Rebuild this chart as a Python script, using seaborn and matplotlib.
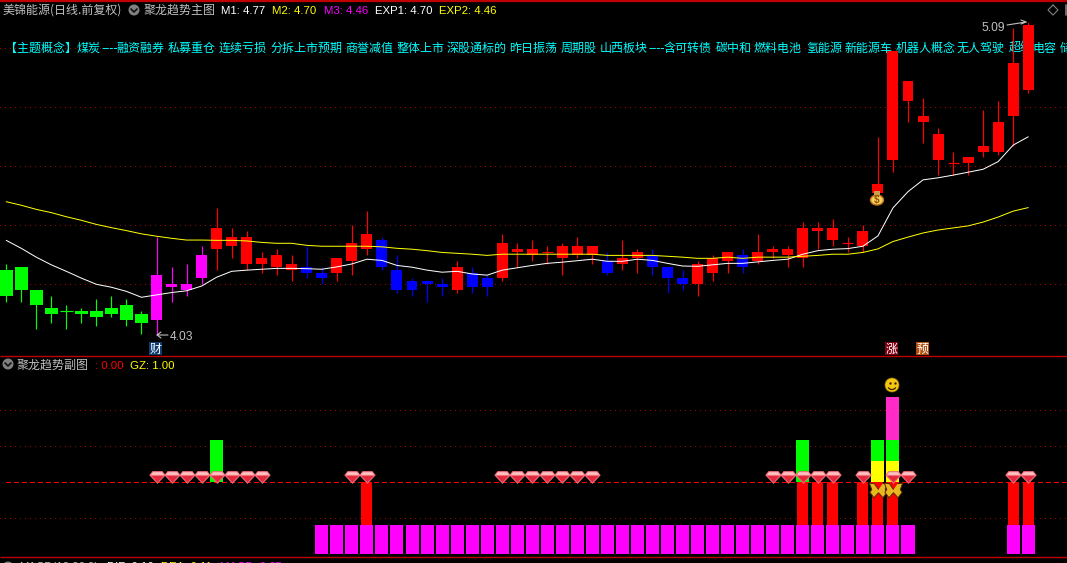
import matplotlib
matplotlib.use('Agg')
import matplotlib.pyplot as plt
from matplotlib.patches import Rectangle, Circle, Ellipse, Arc
import numpy as np
import pandas as pd
import seaborn as sns

# candle data, prices (body top / body bottom / high / low)
body_top = [4.25, 4.26, 4.18, 4.12, 4.11, 4.11, 4.11, 4.12, 4.13, 4.10,
            4.23, 4.20, 4.20, 4.30, 4.39, 4.36, 4.36, 4.29, 4.30, 4.27,
            4.26, 4.24, 4.29, 4.34, 4.37, 4.35, 4.25, 4.21, 4.21, 4.20,
            4.26, 4.24, 4.22, 4.34, 4.32, 4.32, 4.31, 4.33, 4.33, 4.33,
            4.28, 4.29, 4.31, 4.30, 4.26, 4.22, 4.27, 4.29, 4.31, 4.30,
            4.31, 4.32, 4.32, 4.39, 4.39, 4.39, 4.34, 4.38, 4.54, 4.99,
            4.89, 4.77, 4.71, 4.61, 4.63, 4.67, 4.75, 4.95, 5.08]
body_bot = [4.16, 4.18, 4.13, 4.10, 4.11, 4.10, 4.09, 4.10, 4.08, 4.07,
            4.08, 4.19, 4.18, 4.22, 4.32, 4.33, 4.27, 4.27, 4.26, 4.25,
            4.24, 4.22, 4.24, 4.28, 4.32, 4.26, 4.18, 4.18, 4.20, 4.19,
            4.18, 4.19, 4.19, 4.22, 4.31, 4.30, 4.31, 4.29, 4.30, 4.30,
            4.24, 4.27, 4.29, 4.26, 4.22, 4.20, 4.20, 4.24, 4.28, 4.26,
            4.28, 4.31, 4.30, 4.29, 4.38, 4.35, 4.34, 4.33, 4.51, 4.62,
            4.82, 4.75, 4.62, 4.61, 4.61, 4.65, 4.65, 4.77, 4.86]
high = [4.27, 4.26, 4.18, 4.16, 4.13, 4.12, 4.15, 4.16, 4.15, 4.11,
        4.36, 4.26, 4.27, 4.33, 4.46, 4.39, 4.38, 4.31, 4.32, 4.30,
        4.33, 4.26, 4.29, 4.40, 4.45, 4.36, 4.30, 4.22, 4.21, 4.22,
        4.28, 4.26, 4.23, 4.37, 4.34, 4.35, 4.33, 4.34, 4.36, 4.33,
        4.31, 4.35, 4.32, 4.32, 4.26, 4.25, 4.28, 4.30, 4.31, 4.32,
        4.37, 4.33, 4.33, 4.41, 4.41, 4.42, 4.36, 4.40, 4.70, 4.99,
        4.89, 4.83, 4.73, 4.65, 4.63, 4.79, 4.82, 5.07, 5.09]
low = [4.14, 4.14, 4.05, 4.07, 4.05, 4.07, 4.06, 4.09, 4.06, 4.03,
       4.03, 4.14, 4.16, 4.20, 4.25, 4.29, 4.25, 4.24, 4.23, 4.21,
       4.22, 4.20, 4.21, 4.23, 4.30, 4.25, 4.17, 4.16, 4.14, 4.16,
       4.17, 4.17, 4.16, 4.21, 4.26, 4.28, 4.27, 4.23, 4.29, 4.27,
       4.23, 4.25, 4.24, 4.23, 4.17, 4.18, 4.16, 4.21, 4.24, 4.24,
       4.27, 4.29, 4.26, 4.26, 4.32, 4.33, 4.31, 4.31, 4.51, 4.58,
       4.75, 4.68, 4.57, 4.57, 4.57, 4.63, 4.64, 4.67, 4.85]
# g = green, m = magenta, r = red, b = blue
candle_kind = list('ggggggggggmmmmrrrrrrbbrrrbbbbbrbbrrrrrrrbrrbbbrrrbrrrrrrrrrrrrrrrrrrr')

exp1 = [4.349, 4.322, 4.292, 4.266, 4.244, 4.221, 4.200, 4.190, 4.176, 4.156,
        4.164, 4.172, 4.178, 4.194, 4.224, 4.244, 4.248, 4.251, 4.254, 4.254,
        4.253, 4.251, 4.259, 4.269, 4.285, 4.281, 4.264, 4.258, 4.248, 4.241,
        4.244, 4.235, 4.231, 4.248, 4.256, 4.264, 4.271, 4.275, 4.280, 4.285,
        4.278, 4.278, 4.285, 4.281, 4.271, 4.262, 4.261, 4.266, 4.271, 4.271,
        4.276, 4.281, 4.285, 4.302, 4.314, 4.319, 4.321, 4.329, 4.364, 4.459,
        4.514, 4.554, 4.561, 4.570, 4.580, 4.590, 4.616, 4.672, 4.700]
exp2 = [4.480, 4.468, 4.454, 4.443, 4.429, 4.417, 4.403, 4.392, 4.382, 4.371,
        4.363, 4.356, 4.350, 4.350, 4.349, 4.349, 4.347, 4.342, 4.339, 4.339,
        4.332, 4.329, 4.329, 4.329, 4.329, 4.327, 4.322, 4.319, 4.314, 4.308,
        4.305, 4.302, 4.298, 4.302, 4.302, 4.302, 4.302, 4.302, 4.302, 4.302,
        4.298, 4.298, 4.298, 4.298, 4.295, 4.292, 4.288, 4.288, 4.292, 4.288,
        4.292, 4.292, 4.292, 4.295, 4.298, 4.302, 4.302, 4.308, 4.320, 4.345,
        4.360, 4.374, 4.384, 4.391, 4.398, 4.411, 4.428, 4.448, 4.460]

price_grid = [4.2, 4.4, 4.6, 4.8, 5.0]
sub_grid = [1, 3, 4]
sub_level = 2

# lower panel columns: bar index, bottom, top
magenta_idx = list(range(21, 61)) + [67, 68]
red_idx = [24, 53, 54, 55, 57, 58, 59, 67, 68]
green_idx = [14, 53, 58, 59]
green_bottom = [2, 2, 2.58, 2.58]
yellow_idx = [58, 59]
pink_idx = [59]
gem_idx = list(range(10, 18)) + [23, 24] + list(range(33, 40)) + [51, 52, 53, 54, 55, 57, 59, 60, 67, 68]
butterfly_idx = [58, 59]

concepts = ['【主题概念】', '煤炭', '----', '融资融券', '私募重仓', '连续亏损', '分拆上市预期', '商誉减值',
            '整体上市', '深股通标的', '昨日振荡', '周期股', '山西板块', '----', '含可转债', '碳中和',
            '燃料电池', '氢能源', '新能源车', '机器人概念', '无人驾驶', '超级', '电容', '储']
concept_x = [5, 77, 101, 116, 168, 219, 270, 345, 396, 447, 509, 561, 600, 648, 664, 716,
             754, 806, 844, 896, 957, 1009, 1033, 1060]

W, H = 1067, 563
sns.set_theme(style='dark', rc={'axes.facecolor': 'black', 'figure.facecolor': 'black',
                                'savefig.facecolor': 'black', 'axes.grid': False})
plt.rcParams['font.family'] = ['Noto Sans CJK SC', 'DejaVu Sans']
CJK = ['Noto Sans CJK SC', 'DejaVu Sans']
LAT = ['Liberation Sans', 'DejaVu Sans']
FS = 8.64

fig = plt.figure(figsize=(W / 100, H / 100), dpi=100)
ax = fig.add_axes([0, (H - 356) / H, 1, (356 - 3) / H])
sub = fig.add_axes([0, (H - 557) / H, 1, (557 - 356) / H])
ov = fig.add_axes([0, 0, 1, 1], zorder=10)
ov.patch.set_alpha(0)
ov.set_xlim(0, W)
ov.set_ylim(H, 0)
ov.axis('off')

xlim = ((0 - 6.2) / 15.03, (W - 6.2) / 15.03)

# candles
colors = {'g': '#00ff00', 'm': '#ff00ff', 'r': '#ff0000', 'b': '#0000ff'}
df = pd.DataFrame({'top': body_top, 'bot': body_bot, 'high': high, 'low': low, 'kind': candle_kind})
df['i'] = df.index
for kind, part in df.groupby('kind'):
    c = colors[kind]
    w = 0.865 if kind == 'g' else 0.73
    ax.vlines(part['i'], part['low'], part['high'], color=c, lw=0.85, zorder=3, snap=True)
    solid = part[part['top'] > part['bot']]
    ax.bar(solid['i'], solid['top'] - solid['bot'], bottom=solid['bot'], width=w, color=c,
           linewidth=0, zorder=3, antialiased=False)
    flat = part[part['top'] == part['bot']]
    ax.hlines(flat['top'], flat['i'] - w / 2, flat['i'] + w / 2, color=c, lw=0.85, zorder=3, snap=True)

lines = pd.DataFrame({'i': df['i'], 'EXP1': exp1, 'EXP2': exp2})
sns.lineplot(data=lines, x='i', y='EXP1', color='white', lw=0.72, ax=ax, zorder=4)
sns.lineplot(data=lines, x='i', y='EXP2', color='#ffff00', lw=0.72, ax=ax, zorder=4)

for p in price_grid:
    ax.axhline(p, color='#a00000', lw=0.72, ls=(0, (1, 5)), zorder=1, antialiased=False)
ax.set_xlim(*xlim)
ax.set_ylim(4.2 - (356 - 284.3) / 295, 4.2 + (284.3 - 3) / 295)

for name, x in zip(concepts, concept_x):
    ax.text(x / W, (356 - 52) / (356 - 3), name, transform=ax.transAxes, color='#00ffff',
            fontsize=FS, family=CJK, va='baseline', ha='left', zorder=2)

# lower panel
def stack(idx, bottom, top, color):
    part = pd.DataFrame({'i': idx, 'h': np.array(top) - np.array(bottom)})
    sns.barplot(data=part, x='i', y='h', bottom=bottom, color=color, saturation=1, native_scale=True,
                width=0.865 if color != '#ff0000' else 0.73, linewidth=0, ax=sub, antialiased=False,
                errorbar=None, zorder=3)

stack(magenta_idx, 0, 0.8, '#ff00ff')
stack(red_idx, 0.8, 2, '#ff0000')
stack(green_idx, green_bottom, 3.17, '#00ff00')
stack(yellow_idx, 2, 2.58, '#ffff00')
stack(pink_idx, 3.17, 4.36, '#ff2ac8')

for g in sub_grid:
    sub.axhline(g, color='#a00000', lw=0.72, ls=(0, (1, 5)), zorder=1, antialiased=False)
sub.plot([0.0, 71], [sub_level, sub_level], color='#ff0000', lw=0.8, ls=(0, (4, 3)), zorder=2, antialiased=False)

def gem_layer(verts, color, x, y):
    m = max(abs(v) for pt in verts for v in pt)
    sub.scatter(x, y, marker=verts, s=140 * m ** 2, color=color, linewidths=0, zorder=5)

gem_y = [2.13] * len(gem_idx)
gem_layer([(-1, .28), (-.6, .78), (.6, .78), (1, .28), (0, -.78)], '#f0707c', gem_idx, gem_y)
gem_layer([(-.72, .18), (.72, .18), (0, -.6)], '#e3283c', gem_idx, gem_y)
gem_layer([(-.55, .64), (.55, .64), (.8, .32), (-.8, .32)], '#ffc4c4', gem_idx, gem_y)

wing = [(0, .1), (-.45, .75), (-1, .8), (-.75, .1), (-.95, -.2), (-.5, -.8), (0, -.25),
        (.5, -.8), (.95, -.2), (.75, .1), (1, .8), (.45, .75)]
sub.scatter(butterfly_idx, [1.78, 1.78], marker=wing, s=170, color='#e8b820', edgecolors='#5a2800',
            linewidths=0.7, zorder=6)

sub.set_xlim(*xlim)
sub.set_ylim(-3 / 36, 198 / 36)

for a in (ax, sub):
    a.set_xlabel('')
    a.set_ylabel('')
    a.set_xticks([])
    a.set_yticks([])
    for s in a.spines.values():
        s.set_visible(False)

# frame lines
ov.plot([0, W], [1, 1], color='#c00000', lw=1.6, solid_capstyle='butt')
ov.plot([0, W], [356, 356], color='#c00000', lw=1.0, solid_capstyle='butt')
ov.plot([0, W], [557, 557], color='#c00000', lw=1.0, solid_capstyle='butt')


def label(x, y, s, color, fam=LAT, size=8.2):
    ov.text(x, y, s, color=color, fontsize=size, family=fam, va='baseline', ha='left')


def chevron(x, y):
    ov.add_patch(Circle((x, y), 5.5, color='#808080', lw=0))
    ov.plot([x - 3, x, x + 3], [y - 1, y + 2, y - 1], color='#101010', lw=1.2)


label(3, 14, '美锦能源(日线.前复权)', '#c0c0c0', CJK, FS)
chevron(134, 10)
label(144, 14, '聚龙趋势主图', '#c0c0c0', CJK, FS)
for x, s, c in [(221, 'M1: 4.77', 'white'), (272, 'M2: 4.70', '#ffff00'), (324, 'M3: 4.46', '#ff00ff'),
                (375, 'EXP1: 4.70', 'white'), (439, 'EXP2: 4.46', '#ffff00')]:
    label(x, 14, s, c)

chevron(8, 364)
label(17, 369, '聚龙趋势副图', '#c0c0c0', CJK, FS)
label(95, 369, ': 0.00', '#ff0000')
label(130, 369, 'GZ: 1.00', '#ffff00')

chevron(8, 567)
label(19, 570, 'MACD(12,26,9)', '#c0c0c0')
label(107, 570, 'DIF: 0.16', 'white')
label(161, 570, 'DEA: 0.11', '#ffff00')
label(220, 570, 'MACD: 0.05', '#ff00ff')

# max / min price tags
label(981, 31, '5.09', '#c0c0c0', LAT, FS)
ov.plot([1007, 1026, 1021], [25, 22, 20], color='#c0c0c0', lw=0.8)
ov.plot([1026, 1021], [22, 24], color='#c0c0c0', lw=0.8)
label(170, 340, '4.03', '#c0c0c0', LAT, FS)
ov.plot([168, 157, 161], [335, 335, 332], color='#c0c0c0', lw=0.8)
ov.plot([157, 161], [335, 338], color='#c0c0c0', lw=0.8)

# small tag boxes
for x, s, bg in [(149, '财', '#0c3c70'), (885, '涨', '#800010'), (916, '预', '#b05010')]:
    ov.add_patch(Rectangle((x, 342), 13, 13, color=bg, lw=0))
    ov.text(x + 6.5, 353, s, color='white', fontsize=FS, family=CJK, va='baseline', ha='center')

# top right diamond
ov.plot([1053, 1058, 1053, 1048, 1053], [5, 10, 15, 10, 5], color='#808080', lw=0.8)
ov.plot([1066, 1066], [5, 15], color='#808080', lw=1.2)

# smile
ov.add_patch(Circle((892, 385), 7, color='#f2c814', ec='#a07800', lw=0.5))
ov.scatter([889.5, 894.5], [383, 383], s=3, color='#402000', linewidths=0)
ov.add_patch(Arc((892, 386), 8, 7, theta1=20, theta2=160, color='#402000', lw=0.9))

# money bag
ov.add_patch(Ellipse((877, 200), 13, 10, color='#f4d060', ec='#c07010', lw=1))
ov.add_patch(Rectangle((874, 191), 6, 4, color='#c8a050', lw=0))
ov.text(877, 203, '$', color='#905000', fontsize=7, family=LAT, weight='bold', va='baseline', ha='center')

fig.savefig('out.png', dpi=100)
